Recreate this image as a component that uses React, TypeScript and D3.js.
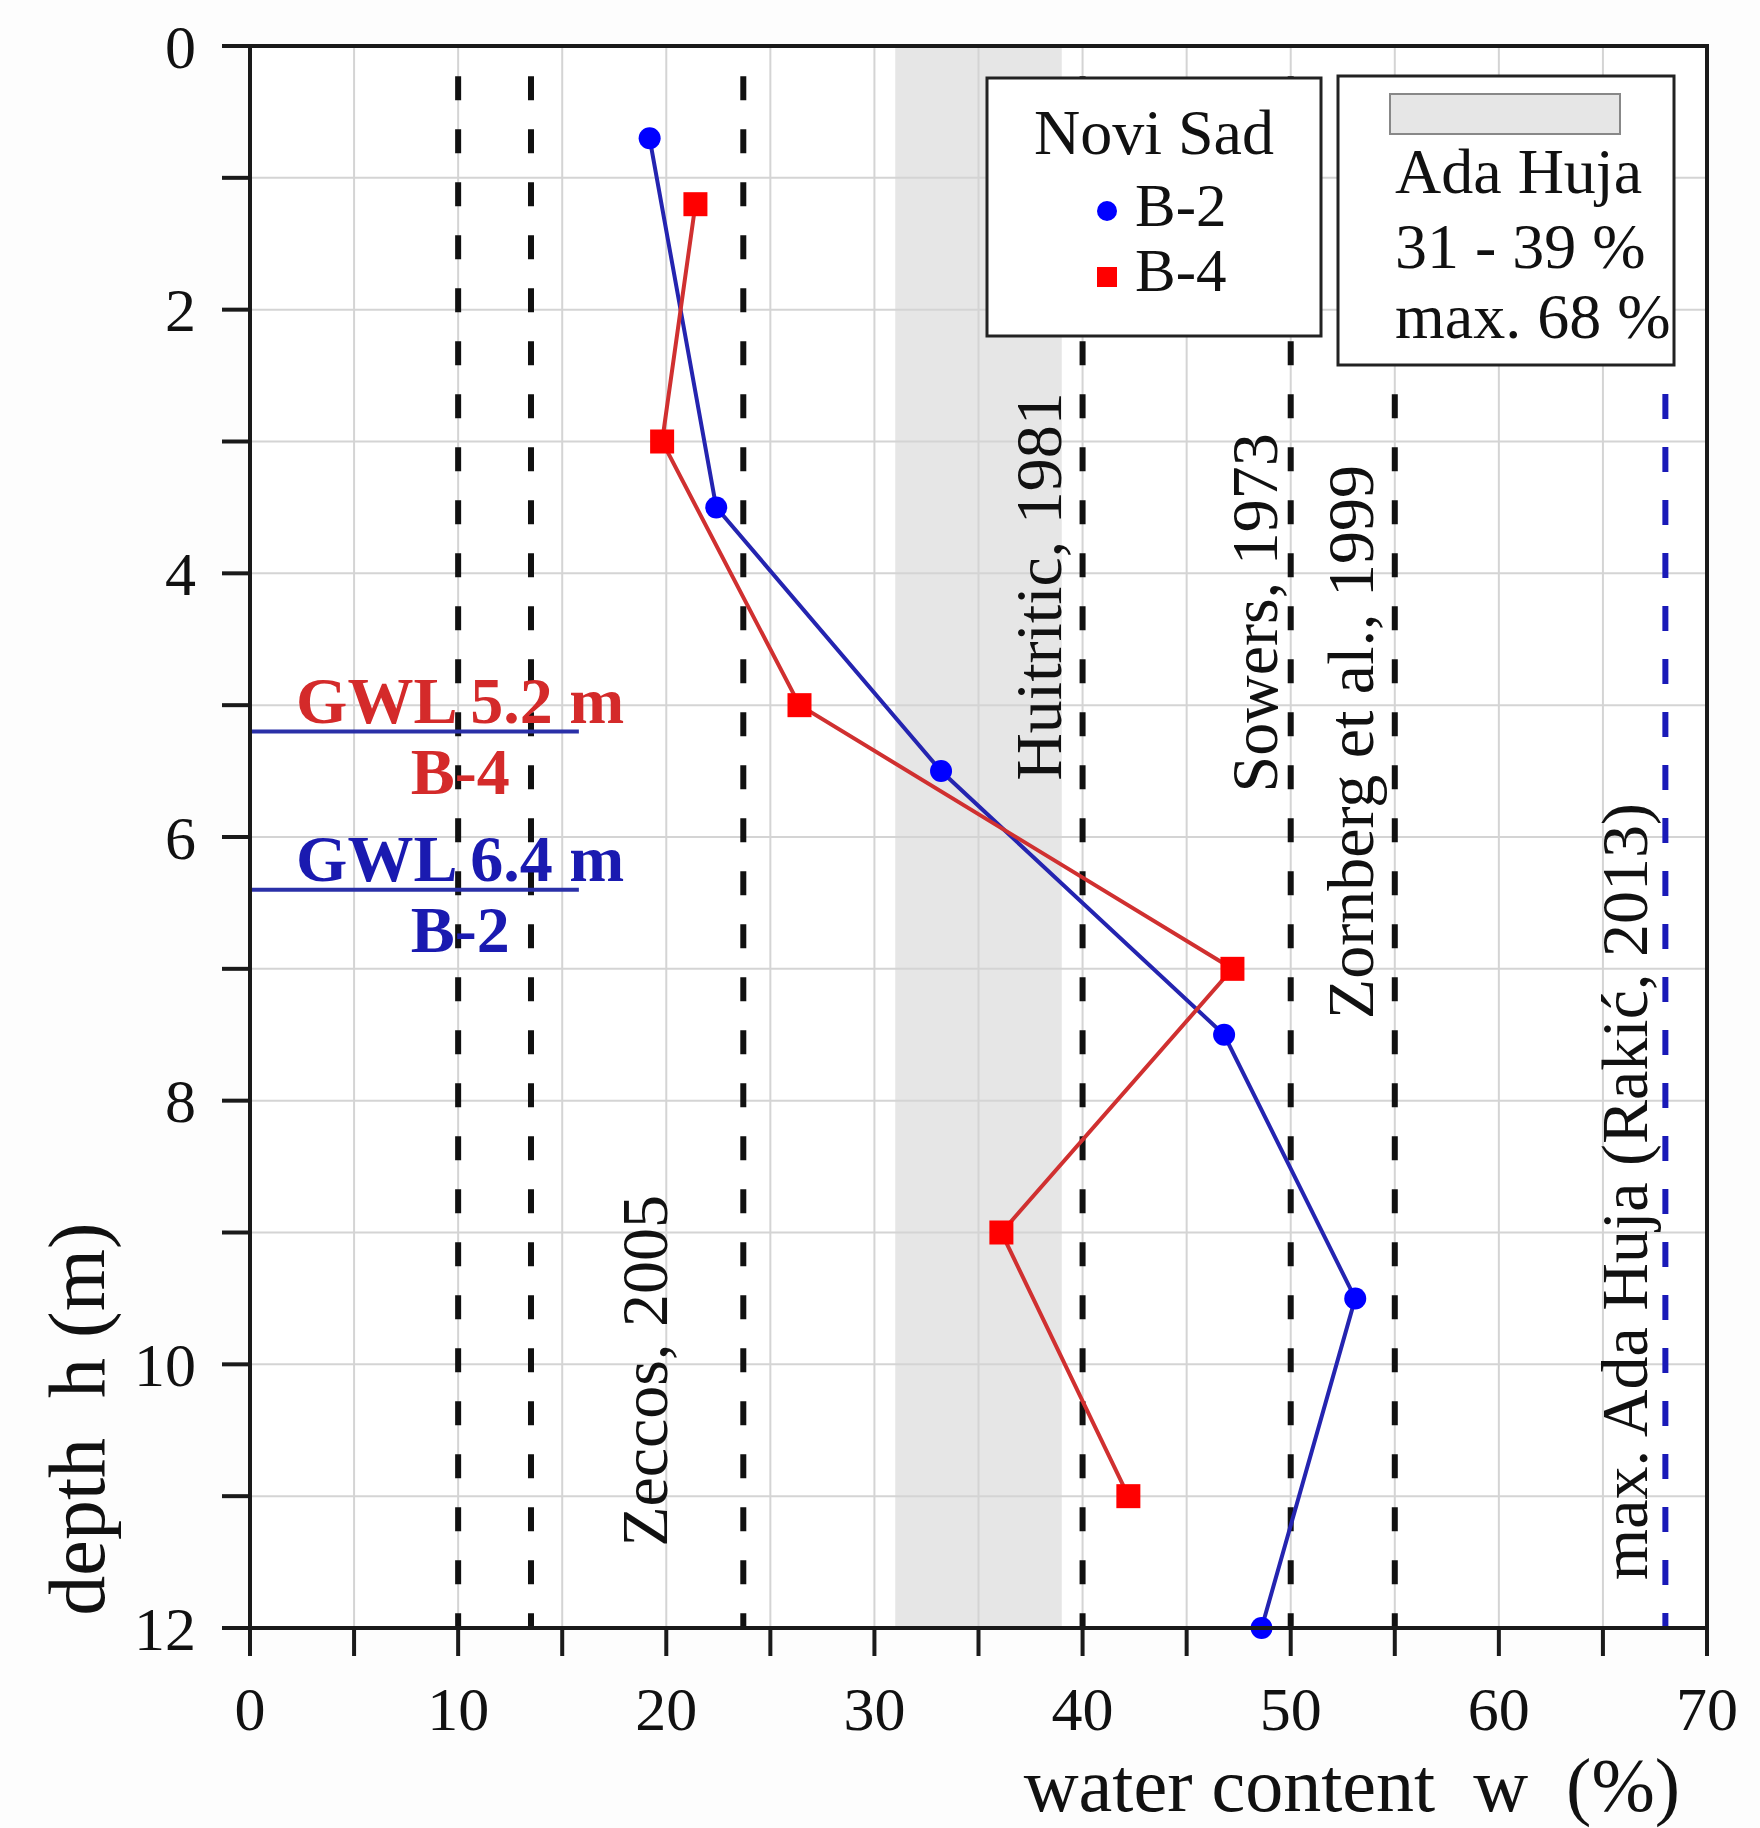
import React from "react";
import * as d3 from "d3";

// water content (%) vs depth (m)
const b2Water = [19.2, 22.4, 33.2, 46.8, 53.1, 48.6];
const b2Depth = [0.7, 3.5, 5.5, 7.5, 9.5, 12.0];
const b4Water = [21.4, 19.8, 26.4, 47.2, 36.1, 42.2];
const b4Depth = [1.2, 3.0, 5.0, 7.0, 9.0, 11.0];

// reference lines from literature
const refLines = [10, 13.5, 23.7, 40, 50, 55];
const refLabels = [
  { text: "Zeccos, 2005", at: 23.7, depth: 10.05, off: 76 },
  { text: "Huitritic, 1981", at: 40, depth: 4.1, off: 22 },
  { text: "Sowers, 1973", at: 50, depth: 4.3, off: 14 },
  { text: "Zornberg et al., 1999", at: 55, depth: 5.28, off: 22 },
];
const adaMax = 68;
const adaRange = [31, 39];
const gwl = [
  { depth: 5.2, label: "GWL 5.2 m", bore: "B-4", color: "#d42a2a" },
  { depth: 6.4, label: "GWL 6.4 m", bore: "B-2", color: "#1a1ab0" },
];

const xTicks = d3.range(0, 71, 5);
const yTicks = d3.range(0, 13, 1);

const W = 1760;
const H = 1828;
const font = "'Liberation Serif', 'Times New Roman', serif";

export default function App() {
  const x = d3.scaleLinear().domain([0, 70]).range([250, 1707]);
  const y = d3.scaleLinear().domain([0, 12]).range([46, 1628]);

  const line = d3
    .line<[number, number]>()
    .x((d) => x(d[0]))
    .y((d) => y(d[1]));

  const b2 = b2Water.map((w, i) => [w, b2Depth[i]] as [number, number]);
  const b4 = b4Water.map((w, i) => [w, b4Depth[i]] as [number, number]);

  return (
    <svg
      width={W}
      height={H}
      style={{ position: "absolute", left: 0, top: 0, background: "#fdfdfd" }}
      fontFamily={font}
    >
      <rect x={x(0)} y={y(0)} width={x(70) - x(0)} height={y(12) - y(0)} fill="#ffffff" />

      {/* Ada Huja range band */}
      <rect
        x={x(adaRange[0])}
        y={y(0)}
        width={x(adaRange[1]) - x(adaRange[0])}
        height={y(12) - y(0)}
        fill="#e6e6e6"
      />

      {/* grid */}
      {xTicks.map((t) => (
        <line key={"gx" + t} x1={x(t)} x2={x(t)} y1={y(0)} y2={y(12)} stroke="#d4d4d4" strokeWidth={2} />
      ))}
      {yTicks.map((t) => (
        <line key={"gy" + t} x1={x(0)} x2={x(70)} y1={y(t)} y2={y(t)} stroke="#d4d4d4" strokeWidth={2} />
      ))}

      {/* literature lines */}
      {refLines.map((v) => (
        <line
          key={"r" + v}
          x1={x(v)}
          x2={x(v)}
          y1={y(0.23)}
          y2={y(12)}
          stroke="#111"
          strokeWidth={6}
          strokeDasharray="24 29"
        />
      ))}
      <line
        x1={x(adaMax)}
        x2={x(adaMax)}
        y1={y(2.64)}
        y2={y(12)}
        stroke="#1a1ab8"
        strokeWidth={6}
        strokeDasharray="25 28"
      />

      {/* GWL */}
      {gwl.map((g) => (
        <g key={g.label}>
          <line x1={x(0)} x2={x(15.8)} y1={y(g.depth)} y2={y(g.depth)} stroke="#2a30a8" strokeWidth={4} />
          <text
            x={x(10.1)}
            y={y(g.depth) - 9}
            textAnchor="middle"
            fontSize={66}
            fontWeight="bold"
            fill={g.color}
          >
            {g.label}
          </text>
          <text
            x={x(10.1)}
            y={y(g.depth) + 62}
            textAnchor="middle"
            fontSize={66}
            fontWeight="bold"
            fill={g.color}
          >
            {g.bore}
          </text>
        </g>
      ))}

      {/* rotated labels */}
      {refLabels.map((r) => (
        <text
          key={r.text}
          transform={`translate(${x(r.at) - r.off},${y(r.depth)}) rotate(-90)`}
          textAnchor="middle"
          fontSize={66}
          fill="#111"
        >
          {r.text}
        </text>
      ))}
      <text
        transform={`translate(${x(adaMax) - 18},${y(8.69)}) rotate(-90)`}
        textAnchor="middle"
        fontSize={66}
        fill="#111"
      >
        max. Ada Huja (Rakić, 2013)
      </text>

      {/* data */}
      <path d={line(b2) ?? ""} fill="none" stroke="#2424b0" strokeWidth={4} />
      <path d={line(b4) ?? ""} fill="none" stroke="#d03030" strokeWidth={4} />
      {b2.map((d, i) => (
        <circle key={"b2" + i} cx={x(d[0])} cy={y(d[1])} r={11} fill="#0000ff" />
      ))}
      {b4.map((d, i) => (
        <rect key={"b4" + i} x={x(d[0]) - 12} y={y(d[1]) - 12} width={24} height={24} fill="#ff0000" />
      ))}

      {/* legend: Novi Sad */}
      <rect x={987} y={78} width={334} height={258} fill="#fff" stroke="#222" strokeWidth={3} />
      <text x={1154} y={154} textAnchor="middle" fontSize={64} fill="#111">
        Novi Sad
      </text>
      <circle cx={1107} cy={211} r={10} fill="#0000ff" />
      <text x={1135} y={226} fontSize={61} fill="#111">
        B-2
      </text>
      <rect x={1097} y={267} width={20} height={20} fill="#ff0000" />
      <text x={1135} y={291} fontSize={61} fill="#111">
        B-4
      </text>

      {/* legend: Ada Huja */}
      <rect x={1338} y={76} width={336} height={289} fill="#fff" stroke="#222" strokeWidth={3} />
      <rect x={1390} y={94} width={230} height={40} fill="#e6e6e6" stroke="#888" strokeWidth={2} />
      <text x={1395} y={193} fontSize={64} fill="#111">
        Ada Huja
      </text>
      <text x={1395} y={268} fontSize={64} fill="#111">
        31 - 39 %
      </text>
      <text x={1395} y={338} fontSize={64} fill="#111">
        max. 68 %
      </text>

      {/* axes frame */}
      <rect
        x={x(0)}
        y={y(0)}
        width={x(70) - x(0)}
        height={y(12) - y(0)}
        fill="none"
        stroke="#1a1a1a"
        strokeWidth={4}
      />
      {yTicks.map((t) => (
        <line key={"ty" + t} x1={x(0) - 28} x2={x(0)} y1={y(t)} y2={y(t)} stroke="#1a1a1a" strokeWidth={4} />
      ))}
      {xTicks.map((t) => (
        <line key={"tx" + t} x1={x(t)} x2={x(t)} y1={y(12)} y2={y(12) + 28} stroke="#1a1a1a" strokeWidth={4} />
      ))}
      {yTicks
        .filter((t) => t % 2 === 0)
        .map((t) => (
          <text key={"ly" + t} x={x(0) - 54} y={y(t)} dy="0.35em" textAnchor="end" fontSize={62} fill="#111">
            {t}
          </text>
        ))}
      {xTicks
        .filter((t) => t % 10 === 0)
        .map((t) => (
          <text key={"lx" + t} x={x(t)} y={1730} textAnchor="middle" fontSize={62} fill="#111">
            {t}
          </text>
        ))}

      <text x={1680} y={1811} textAnchor="end" fontSize={76} fill="#111" style={{ whiteSpace: "pre" }}>
        {"water content  w  (%)"}
      </text>
      <text
        transform={`translate(104,1419) rotate(-90)`}
        textAnchor="middle"
        fontSize={80}
        fill="#111"
        style={{ whiteSpace: "pre" }}
      >
        {"depth  h (m)"}
      </text>
    </svg>
  );
}
